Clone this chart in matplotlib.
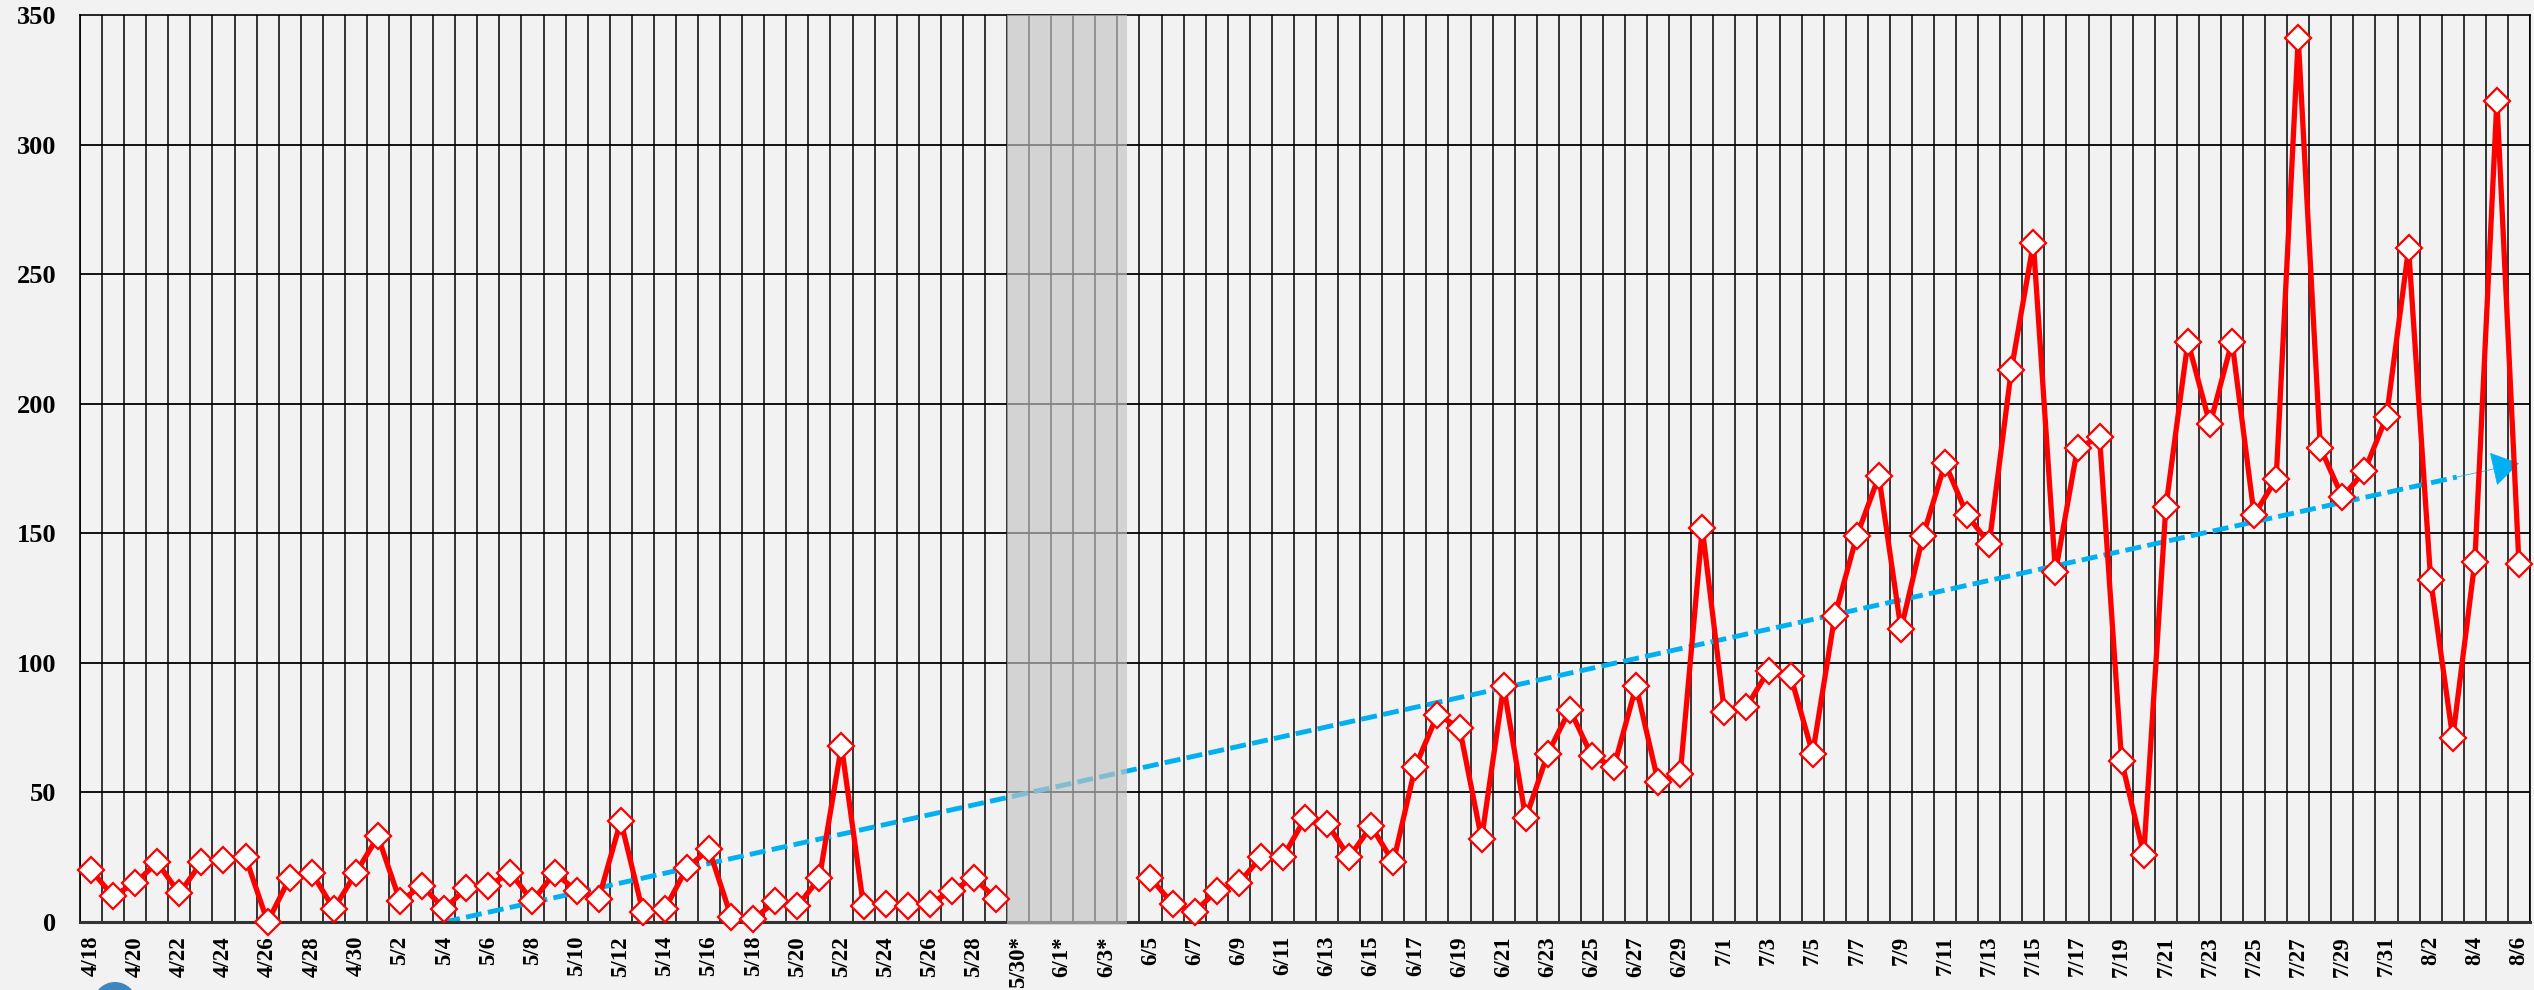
import numpy as np
import pandas as pd
import matplotlib
matplotlib.use("Agg")
import matplotlib.pyplot as plt
from matplotlib.patches import Rectangle, Ellipse

# ---------------- data ----------------
days = [f"{d.month}/{d.day}" for d in pd.date_range("2020-04-18", "2020-08-06", freq="D")]

apr_values = [20, 10, 15, 23, 11, 23, 24, 25, 0, 17, 19, 5, 19]            # 4/18-4/30
may_values = [33, 8, 14, 5, 13, 14, 19, 8, 19, 12, 9, 39, 4, 5, 21, 28, 2, 1,
              8, 6, 17, 68, 6, 7, 6, 7, 12, 17, 9]                           # 5/1-5/29
gap_values = [None] * 6                                                      # 5/30-6/4 (no data)
jun_values = [17, 7, 4, 12, 15, 25, 25, 40, 38, 25, 37, 23, 60, 80, 75, 32,
              91, 40, 65, 82, 64, 60, 91, 54, 57, 152]                       # 6/5-6/30
jul_values = [81, 83, 97, 95, 65, 118, 149, 172, 113, 149, 177, 157, 146, 213,
              262, 135, 183, 187, 62, 26, 160, 224, 192, 224, 157, 171, 341,
              183, 164, 174, 195]                                            # 7/1-7/31
aug_values = [260, 132, 71, 139, 317, 138]                                   # 8/1-8/6

values = apr_values + may_values + gap_values + jun_values + jul_values + aug_values

shaded_days = ["5/30", "6/4"]          # grey block (no data period)
trend_start = ("5/4", 0)
trend_end = ("8/6", 177)

y_ticks = [0, 50, 100, 150, 200, 250, 300, 350]

# tick labels every other day; asterisk on the no-data days
tick_days = days[::2]
tick_labels = [d + "*" if d in ("5/30", "6/1", "6/3") else d for d in tick_days]

# ---------------- plot ----------------
W, H, DPI = 2534, 990, 100
BG = "#f2f2f2"
fig = plt.figure(figsize=(W / DPI, H / DPI), dpi=DPI, facecolor=BG)
ax = fig.add_axes([80 / W, 68 / H, 2450 / W, 907 / H])
ax.set_facecolor(BG)

n = len(days)
x = np.arange(n)
vals = np.array([np.nan if v is None else v for v in values], dtype=float)

ax.set_xlim(-0.5, n - 0.5)
ax.set_ylim(0, 350)

# grid
ax.vlines(np.arange(-0.5, n), 0, 350, color="black", lw=1.1, zorder=1)
ax.hlines(y_ticks[1:-1], -0.5, n - 0.5, color="black", lw=1.3, zorder=1)

for s in ax.spines.values():
    s.set_color("black")
    s.set_linewidth(1.2)
ax.spines["bottom"].set_linewidth(2.2)
ax.spines["bottom"].set_color("#333333")

# trend line
BLUE = "#00B0F0"
i0 = days.index(trend_start[0]); i1 = days.index(trend_end[0])
frac = 0.97
xe = i0 + (i1 - i0) * frac
ye = trend_start[1] + (trend_end[1] - trend_start[1]) * frac
ax.plot([i0, xe], [trend_start[1], ye], color=BLUE, lw=3.5,
        dashes=(3.3, 1.3), zorder=1.5, dash_capstyle="butt")
ax.annotate("", xy=(i1, trend_end[1]), xytext=(xe, ye),
            arrowprops=dict(arrowstyle="-|>,head_length=0.6,head_width=0.38",
                            mutation_scale=30, color=BLUE, lw=0.5,
                            shrinkA=0, shrinkB=0),
            zorder=1.6)

# grey block over the no-data days
s0 = days.index(shaded_days[0]) - 0.5
s1 = days.index(shaded_days[1]) - 0.05
ax.add_patch(Rectangle((s0, -1.2), s1 - s0, 351.2, facecolor="#c3c3c3", alpha=0.66,
                       edgecolor="none", zorder=2.6, clip_on=False))

# data series
ax.plot(x, vals, color="#FF0000", lw=3.8, marker="D", ms=13.5, mfc="white",
        mec="#FF0000", mew=1.6, zorder=4, clip_on=False)

# ticks
ax.set_xticks([days.index(d) for d in tick_days])
ax.set_xticklabels(tick_labels, rotation=90, fontsize=16.5, fontweight="bold",
                   family="Liberation Serif", va="top", ha="center")
ax.set_yticks(y_ticks)
ax.set_yticklabels([str(v) for v in y_ticks], fontsize=19, fontweight="bold",
                   family="Liberation Serif")
ax.tick_params(axis="x", length=0, pad=10)
ax.tick_params(axis="y", length=0, pad=17)

# partial logo circle at the bottom-left edge
fig.add_artist(Ellipse((115 / W, -14 / H), 44 / W, 44 / H, transform=fig.transFigure,
                       facecolor="#3f86bf", edgecolor="none"))

fig.savefig("out.png", dpi=DPI, facecolor=BG)
